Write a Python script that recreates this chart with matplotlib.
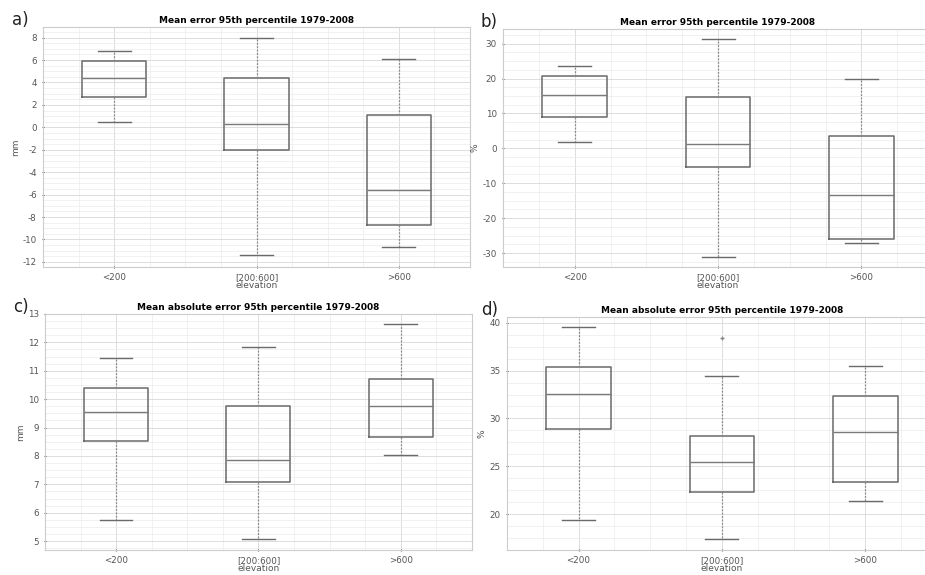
import matplotlib
matplotlib.use("Agg")
import matplotlib.pyplot as plt
from matplotlib.ticker import AutoMinorLocator, MultipleLocator

plt.rcParams['axes.unicode_minus'] = False

categories = ['<200', '[200:600]', '>600']

# box stats per panel: whisker low, q1, median, q3, whisker high
a_lo = [0.5, -11.4, -10.7]
a_q1 = [2.7, -2.0, -8.75]
a_med = [4.4, 0.3, -5.6]
a_q3 = [5.95, 4.4, 1.1]
a_hi = [6.8, 8.0, 6.1]

b_lo = [1.9, -31.1, -27.1]
b_q1 = [9.1, -5.3, -26.0]
b_med = [15.3, 1.3, -13.4]
b_q3 = [20.8, 14.6, 3.6]
b_hi = [23.5, 31.3, 19.9]

c_lo = [5.76, 5.06, 8.03]
c_q1 = [8.53, 7.09, 8.68]
c_med = [9.56, 7.87, 9.75]
c_q3 = [10.4, 9.76, 10.7]
c_hi = [11.45, 11.83, 12.63]

d_lo = [19.4, 17.4, 21.4]
d_q1 = [28.9, 22.3, 23.4]
d_med = [32.6, 25.5, 28.6]
d_q3 = [35.4, 28.2, 32.3]
d_hi = [39.6, 34.4, 35.5]
d_fliers = [[], [38.4], []]

titles = ['Mean error 95th percentile 1979-2008',
          'Mean error 95th percentile 1979-2008',
          'Mean absolute error 95th percentile 1979-2008',
          'Mean absolute error 95th percentile 1979-2008']
ylabels = ['mm', '%', 'mm', '%']
letters = ['a)', 'b)', 'c)', 'd)']
ylims = [(-12.45, 8.95), (-34.0, 34.2), (4.7, 13.0), (16.3, 40.6)]
ysteps = [2, 10, 1, 5]
letter_x = [-0.072, -0.052, -0.075, -0.06]


def make_stats(lo, q1, med, q3, hi, fl=None):
    out = []
    for i in range(len(lo)):
        out.append({'whislo': lo[i], 'q1': q1[i], 'med': med[i], 'q3': q3[i],
                    'whishi': hi[i], 'fliers': fl[i] if fl else []})
    return out


panels = [make_stats(a_lo, a_q1, a_med, a_q3, a_hi),
          make_stats(b_lo, b_q1, b_med, b_q3, b_hi),
          make_stats(c_lo, c_q1, c_med, c_q3, c_hi),
          make_stats(d_lo, d_q1, d_med, d_q3, d_hi, d_fliers)]

rects = [[0.0465, 0.5357, 0.4616, 0.4174],
         [0.5438, 0.5357, 0.4649, 0.4139],
         [0.0486, 0.0440, 0.4616, 0.4100],
         [0.5480, 0.0440, 0.4649, 0.4048]]

fig = plt.figure(figsize=(9.25, 5.75), dpi=100)

for k in range(4):
    ax = fig.add_axes(rects[k])
    ax.bxp(panels[k], positions=[1, 2, 3], widths=0.45, showfliers=True,
           boxprops=dict(color='#6a6a6a', linewidth=1.1),
           medianprops=dict(color='#7a7a7a', linewidth=1.0),
           whiskerprops=dict(color='#8a8a8a', linewidth=0.9, linestyle=(0, (1.5, 1.2))),
           capprops=dict(color='#6a6a6a', linewidth=1.0),
           capwidths=0.23,
           flierprops=dict(marker='+', markersize=3, markeredgecolor='#888888'))
    ax.set_xlim(0.5, 3.5)
    ax.set_ylim(*ylims[k])
    ax.set_xticks([1, 2, 3])
    ax.set_xticklabels(categories)
    ax.yaxis.set_major_locator(MultipleLocator(ysteps[k]))
    ax.yaxis.set_minor_locator(AutoMinorLocator(4))
    ax.xaxis.set_minor_locator(MultipleLocator(0.25))
    ax.grid(True, which='major', color='#d8d8d8', linewidth=0.6)
    ax.grid(True, which='minor', color='#ececec', linewidth=0.5)
    ax.set_axisbelow(True)
    ax.tick_params(labelsize=6.3, colors='#555555', length=2, direction='inout')
    ax.tick_params(which='minor', length=0)
    for sp in ax.spines.values():
        sp.set_color('#cccccc')
        sp.set_linewidth(0.8)
    ax.set_title(titles[k], fontsize=6.5, fontweight='bold', pad=3)
    ax.set_ylabel(ylabels[k], fontsize=6.5, color='#555555', labelpad=2)
    ax.set_xlabel('elevation', fontsize=6.5, color='#555555', labelpad=-1)
    ax.text(letter_x[k], 0.99, letters[k], transform=ax.transAxes, fontsize=12,
            ha='left', va='bottom', color='#222222')

fig.savefig('out.png', dpi=100)
